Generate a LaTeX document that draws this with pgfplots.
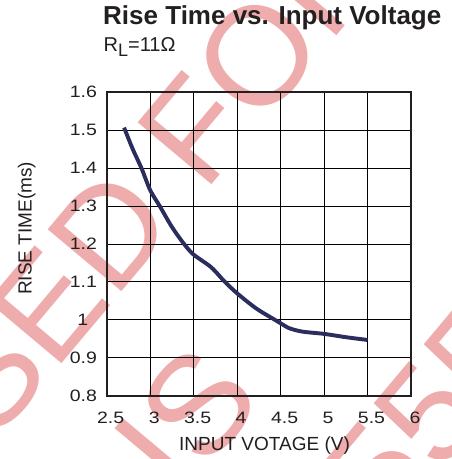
\documentclass[border=0pt]{standalone}
\usepackage{fontspec}
\setmainfont{Liberation Sans}
\newfontfamily\tickfont[FakeStretch=1.18]{Liberation Sans}
\usepackage{pgfplots}
\pgfplotsset{compat=1.18}
\definecolor{ink}{RGB}{35,31,32}
\definecolor{curve}{RGB}{43,45,94}
\definecolor{wmark}{RGB}{239,172,172}

\begin{document}
\begin{tikzpicture}
\clip (0,0) rectangle (452pt,459pt);

% watermark behind the chart (only the letters that show)
\begin{scope}[every node/.style={text=wmark, font=\fontsize{140}{140}\selectfont, inner sep=0pt, rotate=50}]
\node[anchor=base west] at (-6pt,15pt) {SED FOR};
\node[anchor=base west] at (180pt,-42pt) {IS};
\node[anchor=base west] at (440pt,-16pt) {55};
\node[anchor=base east] at (440pt,-16pt) {5};
\end{scope}

\begin{axis}[
  at={(106.7pt,63.3pt)}, anchor=south west,
  width=304.3pt, height=303.4pt, scale only axis,
  xmin=2.5, xmax=6, ymin=0.8, ymax=1.6,
  xtick={2.5,3,3.5,4,4.5,5,5.5,6},
  ytick={0.8,0.9,1,1.1,1.2,1.3,1.4,1.5,1.6},
  grid=major,
  major grid style={black, line width=0.9pt},
  major tick length=0pt,
  axis line style={ink, line width=1.8pt},
  tick label style={font=\tickfont\fontsize{16.5}{18}\selectfont, text=ink},
  /pgf/number format/assume math mode=true,
  xticklabel style={anchor=north, inner sep=0pt, yshift=-16pt, xshift=4pt},
  yticklabel style={anchor=east, inner sep=0pt, text width=26pt, align=center, xshift=-10.7pt},
  xlabel={INPUT VOTAGE (V)},
  ylabel={RISE TIME(ms)},
  label style={font=\fontsize{19}{22}\selectfont, text=ink, inner sep=0pt},
  xlabel style={at={(axis description cs:0.5187,-0.179)}, anchor=base},
  ylabel style={at={(axis description cs:-0.2465,0.5517)}, anchor=base},
]
\addplot[curve, line width=3.9pt, smooth] coordinates {
(2.70,1.507) (2.80,1.450) (2.90,1.400) (3.00,1.342) (3.11,1.300)
(3.25,1.245) (3.39,1.200) (3.50,1.172) (3.70,1.139) (3.86,1.100)
(4.00,1.070) (4.22,1.030) (4.45,0.998) (4.50,0.991) (4.60,0.978)
(4.75,0.969) (5.00,0.963) (5.26,0.954) (5.50,0.947)
};
\end{axis}

\node[anchor=base west, inner sep=0pt, text=ink, font=\bfseries\fontsize{26}{30}\selectfont] at (103pt,434pt) {Rise Time vs. Input Voltage};
\node[anchor=base west, inner sep=0pt, text=ink, font=\fontsize{20}{24}\selectfont] at (103.5pt,407.3pt) {R\raisebox{-4.5pt}{\fontsize{18}{20}\selectfont L}=11Ω};
\end{tikzpicture}
\end{document}
